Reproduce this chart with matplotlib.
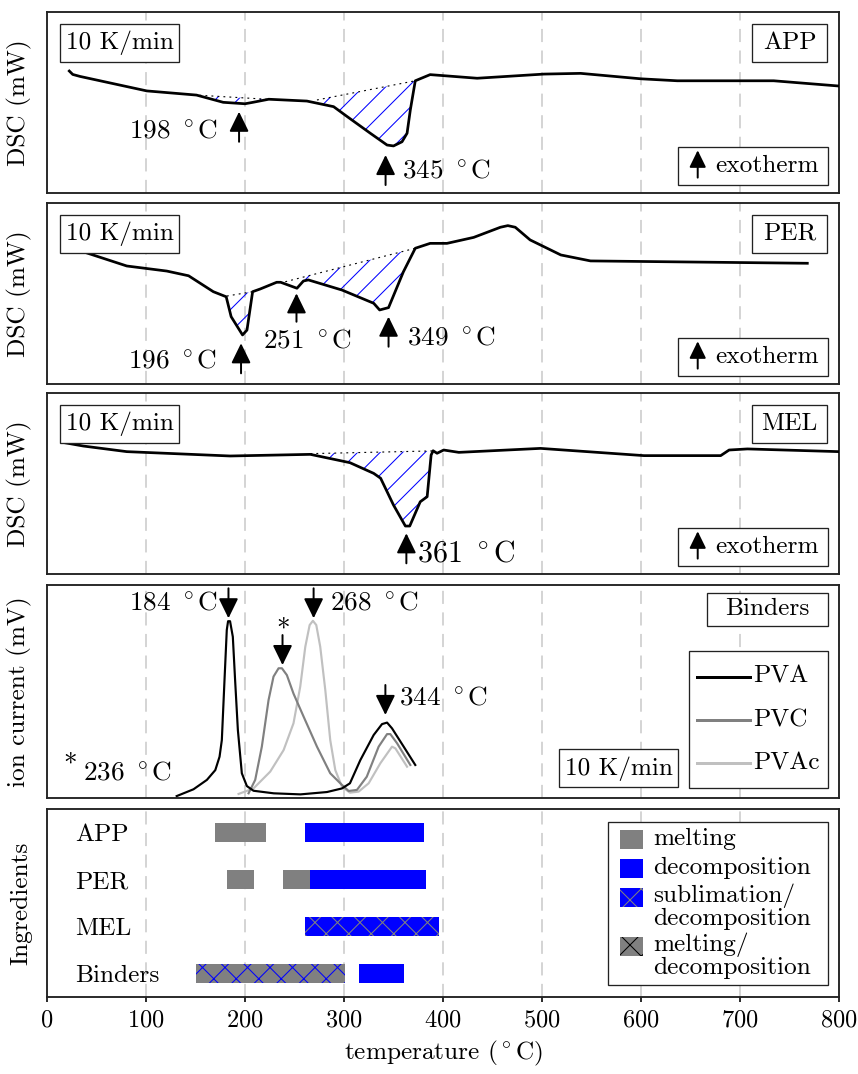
import numpy as np
import matplotlib
matplotlib.use('Agg')
import matplotlib.pyplot as plt
from matplotlib.patches import Rectangle
from matplotlib.lines import Line2D

plt.rcParams['font.family'] = 'cmr10'
plt.rcParams['mathtext.fontset'] = 'cm'
plt.rcParams['axes.formatter.use_mathtext'] = True
plt.rcParams['hatch.linewidth'] = 0.55
plt.rcParams['lines.scale_dashes'] = False

DPI = 135
FS = 13.5
FS_TICK = 13
FS_ANN = 14.5

# ---------------- data ----------------
xticks = [0, 100, 200, 300, 400, 500, 600, 700, 800]

# APP DSC curve (relative units)
app_T = [22.5, 26, 33.4, 100.8, 151, 178, 200, 208, 224, 262.5, 289.5, 303, 326.6, 343.5, 350,
         358.6, 363.7, 367, 372, 387, 434.5, 502, 539, 599.6, 636.7, 734, 800]
app_y = [0.674, 0.655, 0.644, 0.564, 0.541, 0.501, 0.493, 0.501, 0.518, 0.508, 0.477, 0.423, 0.330,
         0.265, 0.260, 0.283, 0.330, 0.459, 0.620, 0.654, 0.634, 0.657, 0.661, 0.631, 0.620, 0.620, 0.591]
app_base = [(154, 0.540, 222, 0.518), (272.7, 0.514, 372, 0.620)]
app_arrow_T = [194, 342]
app_peaks = [198, 345]

# PER DSC curve
per_T = [38, 80.6, 121, 143, 168, 181, 186, 195, 197.5, 202, 207.7, 215.4, 232, 236, 252.5, 259, 264,
         298, 330, 336, 345, 360, 372, 387, 404, 431, 458, 465.5, 473, 488, 519, 549, 768]
per_y = [0.728, 0.652, 0.624, 0.598, 0.510, 0.482, 0.372, 0.293, 0.271, 0.298, 0.510, 0.525, 0.562,
         0.562, 0.529, 0.569, 0.575, 0.519, 0.446, 0.409, 0.422, 0.620, 0.750, 0.777, 0.777, 0.810,
         0.866, 0.875, 0.866, 0.796, 0.713, 0.680, 0.667]
per_base = [(181.7, 0.486, 207.7, 0.510), (240.7, 0.565, 372, 0.750)]
per_arrow_T = [196, 252, 345]
per_peaks = [196, 251, 349]

# MEL DSC curve
mel_T = [15, 36.7, 80.6, 185, 266, 306, 330, 337, 350, 362, 366.4, 377, 384, 388, 390, 394, 400.7,
         416, 498.5, 603, 680.5, 689, 707.5, 800]
mel_y = [0.728, 0.707, 0.676, 0.652, 0.661, 0.615, 0.556, 0.529, 0.381, 0.265, 0.265, 0.399, 0.427,
         0.657, 0.681, 0.667, 0.685, 0.672, 0.694, 0.654, 0.654, 0.685, 0.691, 0.676]
mel_base = [(266, 0.665, 390, 0.680)]
mel_arrow_T = [363]
mel_peaks = [361]

# Binders ion current (relative units)
pva_T = [131, 148, 161.5, 170, 174.3, 176.6, 179.3, 181.6, 182.9, 184.9, 187.7, 190, 192.8, 196.8,
         201.9, 208.6, 229, 256, 282.8, 298, 306, 316.5, 330, 338.4, 343.5, 348.5, 360.3, 372]
pva_y = [0.009, 0.041, 0.085, 0.131, 0.194, 0.272, 0.554, 0.789, 0.830, 0.830, 0.757, 0.554, 0.319,
         0.116, 0.056, 0.034, 0.022, 0.017, 0.028, 0.045, 0.069, 0.178, 0.296, 0.347, 0.354, 0.327,
         0.241, 0.155]
pvc_T = [203.6, 210.3, 217, 223.8, 228.8, 233.9, 237.3, 242.3, 249, 259.2, 272.7, 286.1, 298, 304.7,
         313.1, 323, 335, 343.5, 346.8, 353.6, 367]
pvc_y = [0.022, 0.085, 0.241, 0.46, 0.57, 0.609, 0.609, 0.577, 0.49, 0.382, 0.241, 0.116, 0.061,
         0.033, 0.038, 0.1, 0.241, 0.30, 0.30, 0.257, 0.155]
pvac_T = [193.5, 208.6, 225.5, 239, 249, 255.8, 260.9, 265.3, 268.6, 272, 276, 281.1, 286.1, 291.2,
          298, 306, 314.8, 324.9, 336.7, 348.5, 351.9, 363.7]
pvac_y = [0.019, 0.045, 0.124, 0.225, 0.351, 0.523, 0.71, 0.812, 0.832, 0.812, 0.71, 0.507, 0.272,
          0.131, 0.053, 0.025, 0.03, 0.069, 0.163, 0.241, 0.233, 0.147]
binder_names = ['PVA', 'PVC', 'PVAc']
binder_colors = ['black', '#808080', '#c0c0c0']
binder_arrow_T = [183.3, 237.9, 269.3, 341.8]
binder_peaks = [184, 236, 268, 344]

# Ingredients processes
ingredients = ['APP', 'PER', 'MEL', 'Binders']
melt_rows = [0, 1, 1]
melt_start = [170, 182, 238]
melt_end = [221, 209, 266]
decomp_rows = [0, 1, 3]
decomp_start = [261, 266, 315]
decomp_end = [381, 383, 361]
subl_rows = [2]
subl_start = [261]
subl_end = [396]
meltdec_rows = [3]
meltdec_start = [151]
meltdec_end = [301]
process_labels = ['melting', 'decomposition', 'sublimation/\ndecomposition', 'melting/\ndecomposition']

GRAY = '#808080'
BLUE = '#0000ff'
EDGE = '#222222'

# ---------------- figure ----------------
W, H = 858, 1074
fig = plt.figure(figsize=(W / DPI, H / DPI), dpi=DPI)


def add_ax(top, bottom):
    return fig.add_axes([47 / W, 1 - bottom / H, 792 / W, (bottom - top) / H])


def deg(v):
    return f'{v} $^\\circ$C'


def style(ax, last=False):
    ax.set_xlim(0, 800)
    ax.set_xticks(xticks)
    ax.grid(axis='x', color='#c8c8c8', lw=0.8, ls=(0, (7, 4.5)))
    ax.set_axisbelow(True)
    for s in ax.spines.values():
        s.set_linewidth(1.0)
        s.set_color(EDGE)
    ax.set_yticks([])
    if not last:
        ax.tick_params(axis='x', length=0, labelbottom=False)


def box(ax, x0, y0, x1, y1, text=None, fs=FS):
    ax.add_patch(Rectangle((x0, y0), x1 - x0, y1 - y0, transform=ax.transAxes,
                           facecolor='white', edgecolor=EDGE, lw=0.7, zorder=5))
    if text is not None:
        ax.text((x0 + x1) / 2, (y0 + y1) / 2, text, transform=ax.transAxes,
                ha='center', va='center', fontsize=fs, zorder=6)


def arrow(ax, x, y_tail, y_tip, trans=None, scale=20):
    tr = trans if trans is not None else ax.get_xaxis_transform()
    ax.annotate('', xy=(x, y_tip), xytext=(x, y_tail), xycoords=tr, textcoords=tr,
                arrowprops=dict(arrowstyle='-|>,head_length=0.45,head_width=0.22',
                                mutation_scale=scale, lw=1.05, color='black',
                                shrinkA=0, shrinkB=0), zorder=7)


def dsc_panel(ax, T, y, bases, name):
    style(ax)
    ax.set_ylim(0, 1)
    for (t0, b0, t1, b1) in bases:
        xs = np.linspace(t0, t1, 300)
        yc = np.interp(xs, T, y)
        yb = np.interp(xs, [t0, t1], [b0, b1])
        ax.fill_between(xs, yc, yb, facecolor='none', edgecolor=BLUE, hatch='//', linewidth=0)
        ax.plot([t0, t1], [b0, b1], ls=(0, (1, 2.2)), color='black', lw=0.6)
    ax.plot(T, y, color='black', lw=1.45, solid_joinstyle='round', zorder=4)
    box(ax, 0.0164, 0.725, 0.1667, 0.936, '10 K/min')
    box(ax, 0.890, 0.725, 0.985, 0.936, name)
    box(ax, 0.7967, 0.042, 0.9861, 0.252)
    arrow(ax, 0.8216, 0.085, 0.236, trans=ax.transAxes, scale=17)
    ax.text(0.8434, 0.147, 'exotherm', transform=ax.transAxes, ha='left', va='center',
            fontsize=FS, zorder=6)
    ax.set_ylabel('DSC (mW)', fontsize=FS)
    ax.yaxis.set_label_coords(-0.019, 0.5)


ax1 = add_ax(12, 193)
ax2 = add_ax(203, 384)
ax3 = add_ax(393, 574)
ax4 = add_ax(585, 798)
ax5 = add_ax(809, 997)

# APP
dsc_panel(ax1, app_T, app_y, app_base, 'APP')
arrow(ax1, app_arrow_T[0], 0.283, 0.449)
ax1.text(172.9, 0.339, deg(app_peaks[0]), transform=ax1.get_xaxis_transform(),
         ha='right', va='center', fontsize=FS_ANN)
arrow(ax1, app_arrow_T[1], 0.044, 0.210)
ax1.text(358.6, 0.118, deg(app_peaks[1]), transform=ax1.get_xaxis_transform(),
         ha='left', va='center', fontsize=FS_ANN)

# PER
dsc_panel(ax2, per_T, per_y, per_base, 'PER')
arrow(ax2, per_arrow_T[0], 0.059, 0.225)
ax2.text(171.6, 0.123, deg(per_peaks[0]), transform=ax2.get_xaxis_transform(),
         ha='right', va='center', fontsize=FS_ANN)
arrow(ax2, per_arrow_T[1], 0.344, 0.501)
ax2.text(218.1, 0.234, deg(per_peaks[1]), transform=ax2.get_xaxis_transform(),
         ha='left', va='center', fontsize=FS_ANN)
arrow(ax2, per_arrow_T[2], 0.206, 0.372)
ax2.text(363.7, 0.252, deg(per_peaks[2]), transform=ax2.get_xaxis_transform(),
         ha='left', va='center', fontsize=FS_ANN)

# MEL
dsc_panel(ax3, mel_T, mel_y, mel_base, 'MEL')
arrow(ax3, mel_arrow_T[0], 0.059, 0.225)
ax3.text(373.8, 0.114, deg(mel_peaks[0]), transform=ax3.get_xaxis_transform(),
         ha='left', va='center', fontsize=16)

# Binders
style(ax4)
ax4.set_ylim(0, 1)
for T, y, c in [(pvac_T, pvac_y, binder_colors[2]), (pvc_T, pvc_y, binder_colors[1]),
                (pva_T, pva_y, binder_colors[0])]:
    ax4.plot(T, y, color=c, lw=1.15, solid_joinstyle='round')
xt4 = ax4.get_xaxis_transform()
arrow(ax4, binder_arrow_T[0], 0.9845, 0.8437)
ax4.text(173.2, 0.914, deg(binder_peaks[0]), transform=xt4, ha='right', va='center', fontsize=FS_ANN)
arrow(ax4, binder_arrow_T[1], 0.765, 0.624)
ax4.text(binder_arrow_T[1], 0.79, '*', transform=xt4, ha='center', va='center', fontsize=FS_ANN)
arrow(ax4, binder_arrow_T[2], 0.9845, 0.8437)
ax4.text(285.4, 0.914, deg(binder_peaks[2]), transform=xt4, ha='left', va='center', fontsize=FS_ANN)
arrow(ax4, binder_arrow_T[3], 0.5305, 0.3897)
ax4.text(355.2, 0.468, deg(binder_peaks[3]), transform=xt4, ha='left', va='center', fontsize=FS_ANN)
ax4.text(23.3, 0.155, '*', transform=xt4, ha='center', va='center', fontsize=FS_ANN)
ax4.text(36.7, 0.116, deg(binder_peaks[1]), transform=xt4, ha='left', va='center', fontsize=FS_ANN)
box(ax4, 0.833, 0.8075, 0.9865, 0.964, 'Binders')
box(ax4, 0.6468, 0.050, 0.7971, 0.2286, '10 K/min')
box(ax4, 0.811, 0.0455, 0.9857, 0.6915)
for i, (nm, c) in enumerate(zip(binder_names, binder_colors)):
    yy = [0.5695, 0.366, 0.1629][i]
    ax4.add_line(Line2D([0.8203, 0.8876], [yy, yy], transform=ax4.transAxes, color=c,
                        lw=1.6, zorder=6))
    ax4.text(0.8914, yy, nm, transform=ax4.transAxes, ha='left', va='center', fontsize=FS, zorder=6)
ax4.set_ylabel('ion current (mV)', fontsize=FS)
ax4.yaxis.set_label_coords(-0.019, 0.5)

# Ingredients
style(ax5, last=True)
BH = 0.39
ax5.barh(melt_rows, np.subtract(melt_end, melt_start), left=melt_start, height=BH,
         color=GRAY, linewidth=0)
ax5.barh(decomp_rows, np.subtract(decomp_end, decomp_start), left=decomp_start, height=BH,
         color=BLUE, linewidth=0)
ax5.barh(subl_rows, np.subtract(subl_end, subl_start), left=subl_start, height=BH,
         facecolor=BLUE, edgecolor=GRAY, hatch='xx', linewidth=0)
ax5.barh(meltdec_rows, np.subtract(meltdec_end, meltdec_start), left=meltdec_start, height=BH,
         facecolor=GRAY, edgecolor=BLUE, hatch='xx', linewidth=0)
ax5.set_ylim(3.5, -0.5)
ax5.set_yticks(range(len(ingredients)))
ax5.set_yticklabels(ingredients, fontsize=FS)
ax5.tick_params(axis='y', length=0, pad=-28 * 72 / DPI)
for lbl in ax5.get_yticklabels():
    lbl.set_horizontalalignment('left')
ax5.tick_params(axis='x', direction='out', length=5 * 72 / DPI, width=1.0, color=EDGE,
                labelsize=FS_TICK, pad=4)
ax5.set_xlabel('temperature ($^\\circ$C)', fontsize=FS, labelpad=4)
ax5.set_ylabel('Ingredients', fontsize=FS)
ax5.yaxis.set_label_coords(-0.019, 0.5)

# legend for processes
box(ax5, 0.7087, 0.0638, 0.9865, 0.9324)
leg_patch_y = [0.839, 0.6835, 0.529, 0.270]
leg_text_y = [0.839, 0.684, 0.480, 0.219]
leg_face = [GRAY, BLUE, BLUE, GRAY]
leg_hatch_color = [GRAY, BLUE, GRAY, 'black']
leg_hatch = [None, None, 'xx', 'xx']
for i, lab in enumerate(process_labels):
    ax5.add_patch(Rectangle((0.7235, leg_patch_y[i] - 0.0505), 0.0287, 0.101,
                            transform=ax5.transAxes, facecolor=leg_face[i],
                            edgecolor=leg_hatch_color[i], hatch=leg_hatch[i], lw=0, zorder=6))
    ax5.text(0.7655, leg_text_y[i], lab, transform=ax5.transAxes, ha='left', va='center',
             fontsize=FS, linespacing=0.95, zorder=6)

fig.savefig('out.png', dpi=DPI)
